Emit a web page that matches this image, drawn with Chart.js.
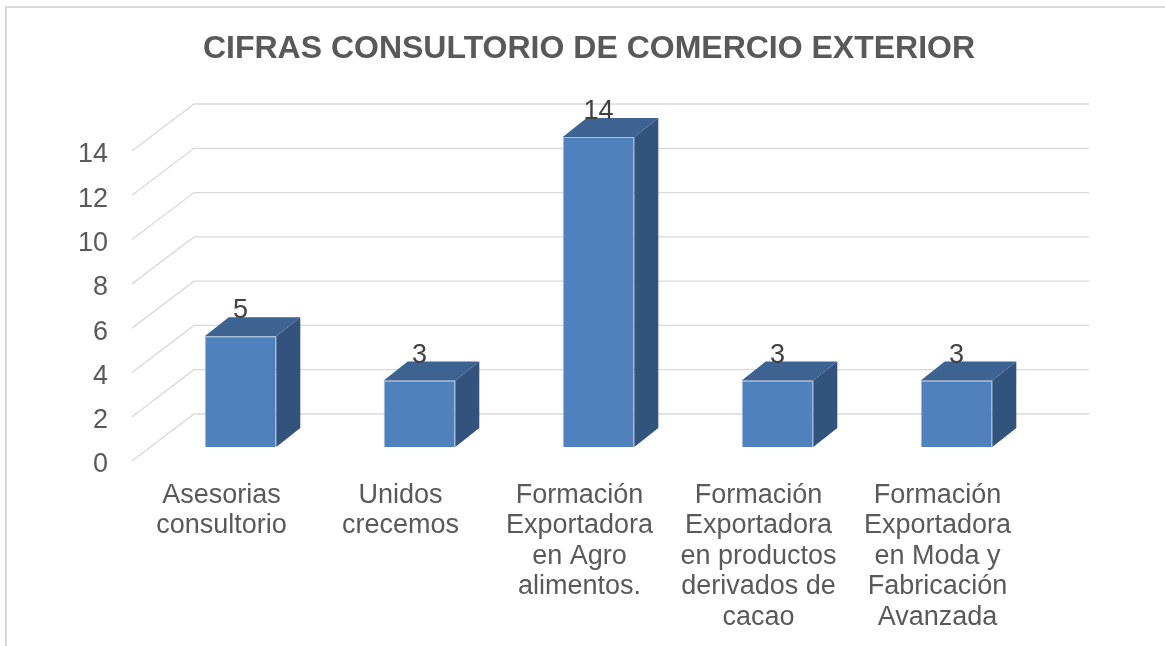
<!DOCTYPE html>
<html>
<head>
<meta charset="utf-8">
<script src="https://cdn.jsdelivr.net/npm/chart.js@4.4.1/dist/chart.umd.min.js"></script>
<style>
  html, body { margin: 0; padding: 0; background: #fff; }
  #wrap { position: relative; width: 1165px; height: 646px; overflow: hidden; }
  #frame { position: absolute; left: 5px; top: 6px; width: 1300px; height: 800px;
           border-left: 2px solid #d9d9d9; border-top: 2px solid #d9d9d9; }
  canvas { position: absolute; left: 0; top: 0; }
</style>
</head>
<body>
<div id="wrap">
  <div id="frame"></div>
  <canvas id="chart" width="1165" height="646"></canvas>
</div>
<script>
const title = 'CIFRAS CONSULTORIO DE COMERCIO EXTERIOR';
const categories = [
    ['Asesorias', 'consultorio'],
    ['Unidos', 'crecemos'],
    ['Formación', 'Exportadora', 'en Agro', 'alimentos.'],
    ['Formación', 'Exportadora', 'en productos', 'derivados de', 'cacao'],
    ['Formación', 'Exportadora', 'en Moda y', 'Fabricación', 'Avanzada']
];
const values = [5, 3, 14, 3, 3];
const yTicks = [0, 2, 4, 6, 8, 10, 12, 14];

// fake 3d: the bars sit in a plane behind the axis labels
const FRONT_DX = -19, FRONT_DY = 14;   // bar plane -> front edge of floor/grid
const WALL_DX = 62, WALL_DY = -47;     // front edge -> back wall
const BAR_DX = 24, BAR_DY = -19;       // depth of one bar

const grid3d = {
    id: 'grid3d',
    beforeDatasetsDraw(chart) {
        const { ctx, chartArea: a } = chart;
        const y = chart.scales.y;
        ctx.save();
        ctx.strokeStyle = '#d9d9d9';
        ctx.lineWidth = 1.3;
        y.ticks.forEach(t => {
            const fx = a.left + FRONT_DX;
            const fy = y.getPixelForValue(t.value) + FRONT_DY;
            ctx.beginPath();
            ctx.moveTo(fx, fy);
            ctx.lineTo(fx + WALL_DX, fy + WALL_DY);
            ctx.lineTo(a.right + FRONT_DX + WALL_DX, fy + WALL_DY);
            ctx.stroke();
        });
        ctx.restore();
    }
};

const bars3d = {
    id: 'bars3d',
    afterDatasetsDraw(chart) {
        const ctx = chart.ctx;
        const meta = chart.getDatasetMeta(0);
        ctx.save();
        meta.data.forEach((bar, i) => {
            const l = bar.x - bar.width / 2, r = bar.x + bar.width / 2;
            const top = bar.y, base = bar.base;
            // top face
            ctx.fillStyle = '#3d6393';
            ctx.beginPath();
            ctx.moveTo(l, top);
            ctx.lineTo(l + BAR_DX, top + BAR_DY);
            ctx.lineTo(r + BAR_DX, top + BAR_DY);
            ctx.lineTo(r, top);
            ctx.closePath();
            ctx.fill();
            // side face
            ctx.fillStyle = '#31537d';
            ctx.beginPath();
            ctx.moveTo(r, top);
            ctx.lineTo(r + BAR_DX, top + BAR_DY);
            ctx.lineTo(r + BAR_DX, base + BAR_DY);
            ctx.lineTo(r, base);
            ctx.closePath();
            ctx.fill();
            // value label
            ctx.fillStyle = '#404040';
            ctx.font = '27px "Liberation Sans", Arial, sans-serif';
            ctx.textAlign = 'center';
            ctx.textBaseline = 'alphabetic';
            ctx.fillText(String(values[i]), bar.x, top + BAR_DY + 1);
        });
        ctx.restore();
    }
};

new Chart(document.getElementById('chart'), {
    type: 'bar',
    data: {
        labels: categories,
        datasets: [{
            data: values,
            backgroundColor: '#4f81bd',
            borderColor: '#a7bfe0',
            borderWidth: 1,
            categoryPercentage: 1,
            barPercentage: 0.4
        }]
    },
    options: {
        responsive: false,
        animation: false,
        layout: { padding: { left: 13, right: 0, top: 0, bottom: 0 } },
        plugins: {
            legend: { display: false },
            tooltip: { enabled: false },
            title: {
                display: true,
                text: title,
                color: '#595959',
                font: { family: '"Liberation Sans", Arial, sans-serif', size: 32, weight: 'bold', lineHeight: 1.2 },
                padding: { top: 30, bottom: 68.6 }
            }
        },
        scales: {
            x: {
                grid: { display: false },
                border: { display: false },
                afterFit: s => { s.height = 199; },
                ticks: {
                    color: '#595959',
                    labelOffset: FRONT_DX,
                    padding: 25,
                    maxRotation: 0,
                    autoSkip: false,
                    font: { family: '"Liberation Sans", Arial, sans-serif', size: 27, lineHeight: 1.13 }
                }
            },
            y: {
                min: 0,
                max: 14,
                afterBuildTicks: s => { s.ticks = yTicks.map(v => ({ value: v })); },
                afterFit: s => { s.width = 138; },
                grid: { display: false, drawTicks: false },
                border: { display: false },
                ticks: {
                    color: '#595959',
                    padding: 43,
                    labelOffset: 18,
                    font: { family: '"Liberation Sans", Arial, sans-serif', size: 27 }
                }
            },
            // empty axis that only reserves the right margin
            yRight: {
                position: 'right',
                display: true,
                grid: { display: false },
                border: { display: false },
                ticks: { display: false },
                afterFit: s => { s.width = 119; }
            }
        }
    },
    plugins: [grid3d, bars3d]
});
</script>
</body>
</html>
